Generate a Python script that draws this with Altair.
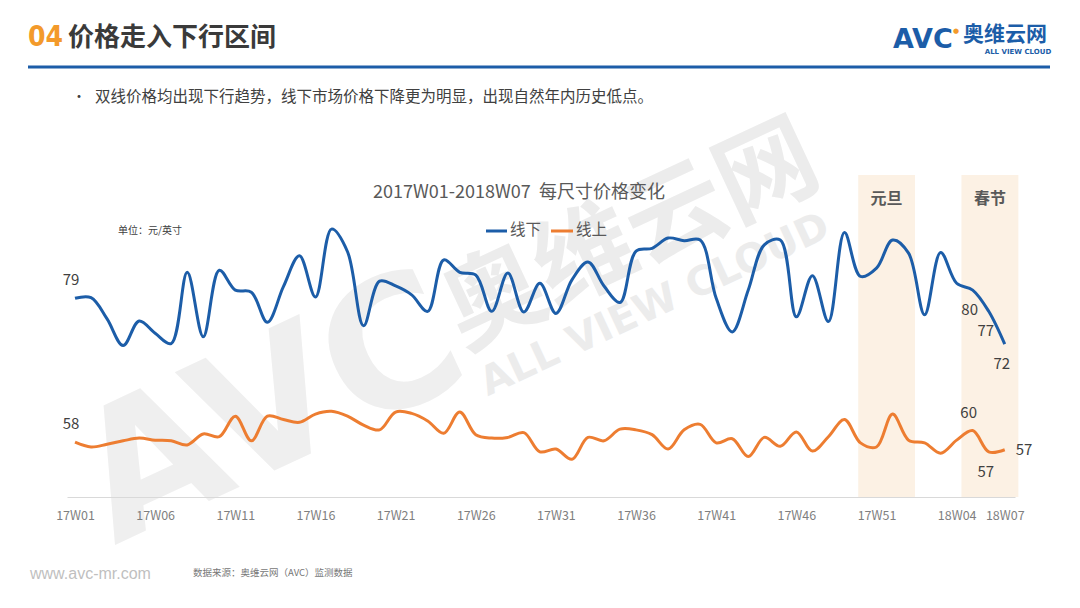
import json
import altair as alt
import pandas as pd

# ---------------- data ----------------
weeks = [f"17W{i:02d}" for i in range(1, 53)] + [f"18W{i:02d}" for i in range(1, 8)]
tick_idx = [0, 5, 10, 15, 20, 25, 30, 35, 40, 45, 50, 55, 58]

offline = [79.0, 79.1, 76.0, 72.1, 75.7, 73.9, 72.4, 82.8, 73.4, 83.1,
           80.2, 79.9, 75.5, 80.7, 85.2, 79.2, 89.1, 85.8, 75.0, 81.5,
           80.8, 79.5, 77.1, 84.6, 82.8, 82.4, 77.1, 82.7, 77.0, 81.2,
           76.8, 81.7, 84.3, 80.8, 78.4, 85.9, 86.3, 87.8, 87.4, 87.5,
           79.0, 74.1, 80.2, 86.8, 87.5, 76.3, 82.3, 75.6, 88.6, 82.2,
           83.4, 87.5, 85.6, 76.6, 85.7, 81.2, 80.2, 77.1, 72.3]
online = [58.0, 57.3, 57.7, 58.2, 58.6, 58.3, 58.2, 57.6, 59.2, 58.8,
          61.8, 58.2, 61.8, 61.3, 60.9, 62.1, 62.5, 61.8, 60.5, 59.8,
          62.4, 62.2, 61.1, 59.3, 62.4, 59.1, 58.6, 58.7, 59.4, 56.6,
          57.0, 55.5, 58.7, 58.2, 59.9, 59.8, 59.1, 57.0, 59.8, 60.6,
          57.9, 58.5, 55.9, 58.7, 57.4, 59.5, 56.7, 58.8, 61.3, 57.9,
          57.3, 62.1, 58.3, 57.9, 56.4, 58.3, 59.7, 56.6, 56.9]
series_names = ["线下", "线上"]
series_colors = ["#1C5DA8", "#ED7D31"]

# labelled points: (series, index, position group)
label_points = [("线下", 0, "above"), ("线下", 56, "below"), ("线下", 57, "below"),
                ("线下", 58, "below"), ("线上", 0, "above"), ("线上", 56, "above"),
                ("线上", 57, "below"), ("线上", 58, "right")]

holidays = ["元旦", "春节"]
holiday_start = [48.86, 55.3]
holiday_end = [52.4, 58.85]

title_text = "2017W01-2018W07\u00a0\u00a0每尺寸价格变化"
unit_text = "单位：元/英寸"
header_num = "04"
header_text = "价格走入下行区间"
bullet_text = "双线价格均出现下行趋势，线下市场价格下降更为明显，出现自然年内历史低点。"
source_text = "数据来源：奥维云网（AVC）监测数据"
site_text = "www.avc-mr.com"

# ---------------- tables ----------------
rows = []
for name, vals in zip(series_names, [offline, online]):
    for i, v in enumerate(vals):
        rows.append({"i": i, "v": v, "s": name})
df = pd.DataFrame(rows)

lab_rows = []
for s, i, pos in label_points:
    v = (offline if s == "线下" else online)[i]
    lab_rows.append({"i": i, "v": v, "s": s, "pos": pos, "t": str(int(round(v)))})
df_lab = pd.DataFrame(lab_rows)

df_hol = pd.DataFrame({"h": holidays, "x0": holiday_start, "x1": holiday_end,
                       "xm": [(a + b) / 2 for a, b in zip(holiday_start, holiday_end)]})

FONT = "Noto Sans CJK SC"
Y0, Y1 = 50, 97
xscale = alt.Scale(domain=[-0.5, 58.64], nice=False, zero=False)
yscale = alt.Scale(domain=[Y0, Y1], nice=False, zero=False)
color = alt.Color("s:N", scale=alt.Scale(domain=series_names, range=series_colors), legend=None)

label_expr = json.dumps(weeks) + "[datum.value]"
xaxis = alt.Axis(values=tick_idx, labelExpr=label_expr, title=None, grid=False,
                 ticks=False, domainColor="#d9d9d9", domainWidth=1,
                 labelColor="#7f7f7f", labelFontSize=12.5, labelFont=FONT,
                 labelPadding=12, labelFlush=False, zindex=1)

# ---------------- layers ----------------
def txt(t, x, y, size, col="#404040", weight="normal", align="left", font=FONT, angle=0, baseline="middle"):
    kw = dict(align=align, baseline=baseline, fontSize=size, color=col, fontWeight=weight, font=font)
    if angle:
        kw["angle"] = angle
    return alt.Chart(pd.DataFrame({"t": [t]})).mark_text(**kw).encode(
        x=alt.value(x), y=alt.value(y), text="t:N")

# plot origin is at absolute (67, 175)
OX, OY = 67, 175

watermark = [
    txt("AVC", 272 - OX, 412 - OY, 180, "#efefef", "bold", "center", "DejaVu Sans", 335),
    txt("奥维云网", 632 - OX, 238 - OY, 100, "#ececec", "bold", "center", FONT, 335),
    txt("ALL VIEW CLOUD", 655 - OX, 305 - OY, 40, "#ececec", "bold", "center", "DejaVu Sans", 335),
]

bands = alt.Chart(df_hol).mark_rect(color="#FCF1E4").encode(
    x=alt.X("x0:Q", scale=xscale, axis=xaxis), x2="x1:Q",
    y=alt.value(0), y2=alt.value(322))

band_text = alt.Chart(df_hol).mark_text(fontSize=16, fontWeight="bold", color="#595959", font=FONT).encode(
    x=alt.X("xm:Q", scale=xscale, axis=xaxis), y=alt.value(199 - OY), text="h:N")

lines = alt.Chart(df).mark_line(interpolate="catmull-rom", strokeWidth=3).encode(
    x=alt.X("i:Q", scale=xscale, axis=xaxis),
    y=alt.Y("v:Q", scale=yscale, axis=None),
    color=color, detail="s:N")

def lab_layer(pos, dx, dy, align="center"):
    return alt.Chart(df_lab).transform_filter(alt.datum.pos == pos).mark_text(
        dx=dx, dy=dy, fontSize=15, color="#404040", font=FONT, align=align).encode(
        x=alt.X("i:Q", scale=xscale, axis=xaxis), y=alt.Y("v:Q", scale=yscale, axis=None), text="t:N")

labels = [lab_layer("above", -4, -18), lab_layer("below", -3, 20), lab_layer("right", 11, 0, "left")]

# legend
legend = [
    alt.Chart(pd.DataFrame({"a": [0]})).mark_rule(color=series_colors[0], strokeWidth=3).encode(
        x=alt.value(486 - OX), x2=alt.value(507 - OX), y=alt.value(231 - OY)),
    txt(series_names[0], 510 - OX, 230 - OY, 15.5, "#595959"),
    alt.Chart(pd.DataFrame({"a": [0]})).mark_rule(color=series_colors[1], strokeWidth=3).encode(
        x=alt.value(551 - OX), x2=alt.value(573 - OX), y=alt.value(231 - OY)),
    txt(series_names[1], 576 - OX, 230 - OY, 15.5, "#595959"),
]

texts = [
    txt(title_text, 519 - OX, 193 - OY, 18, "#595959", align="center"),
    txt(unit_text, 118 - OX, 231 - OY, 10, "#404040"),
    txt(header_num, 28 - OX, 38 - OY, 28, "#F39A2B", "bold", font="Liberation Sans Narrow, DejaVu Sans Condensed, sans-serif"),
    txt(header_text, 68 - OX, 38 - OY, 26, "#3A3A3A", "bold"),
    txt("•", 72 - OX, 97 - OY, 14, "#404040"),
    txt(bullet_text, 95 - OX, 97 - OY, 15.5, "#404040"),
    txt(site_text, 30 - OX, 574 - OY, 16, "#BFBFBF", font="Liberation Sans, sans-serif"),
    txt(source_text, 193 - OX, 573 - OY, 9.5, "#777777"),
    # logo
    txt("AVC", 893 - OX, 40 - OY, 27, "#1C5DA8", "bold", font="DejaVu Sans"),
    txt("●", 956 - OX, 31 - OY, 7, "#F39A2B", align="center", font="DejaVu Sans"),
    txt("奥维云网", 963 - OX, 35 - OY, 21, "#1C5DA8", "bold"),
    txt("ALL VIEW CLOUD", 1018 - OX, 52 - OY, 7, "#1C5DA8", "bold", "center", "DejaVu Sans"),
]

header_rule = alt.Chart(pd.DataFrame({"a": [0]})).mark_rule(color="#1C5DA8", strokeWidth=3).encode(
    x=alt.value(28 - OX), x2=alt.value(1050 - OX), y=alt.value(67 - OY))

chart = alt.layer(
    *watermark, bands, band_text, lines, *labels, *legend, *texts, header_rule
).properties(
    width=948, height=322,
    padding={"left": OX, "top": OY, "right": 1080 - OX - 948, "bottom": 608 - OY - 322},
    autosize=alt.AutoSizeParams(type="none"),
    background="white",
).configure_view(stroke=None)

chart.save("out.html", embed_options={"renderer": "svg", "actions": False})
